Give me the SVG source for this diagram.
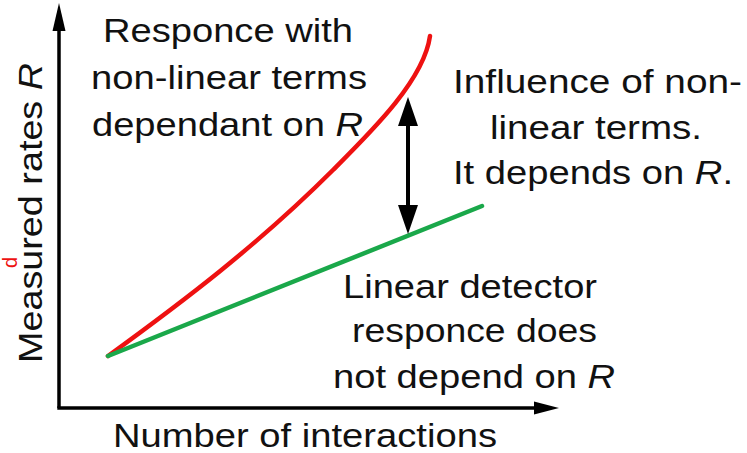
<svg xmlns="http://www.w3.org/2000/svg" width="747" height="453" viewBox="0 0 747 453">
<style>
  .t { font-family: "Liberation Sans", Arial, sans-serif; font-size: 34px; fill: #111; text-anchor: middle; }
  .ax { stroke: #000; stroke-width: 3.5; fill: none; }
  .head { fill: #000; }
</style>
<rect width="747" height="453" fill="#fff"/>
<g id="axes">
  <line class="ax" x1="59" y1="25" x2="59" y2="408"/>
  <polygon class="head" points="59,3 52.5,31 65.5,31"/>
  <line class="ax" x1="57.3" y1="408" x2="538" y2="408"/>
  <polygon class="head" points="559,408 534,401.5 534,414.5"/>
</g>
<g id="connectors">
  <path d="M108,356 C183,301.5 258,245 333,170 C372,131 424,80 430,36" fill="none" stroke="#ee1111" stroke-width="4.5" stroke-linecap="round"/>
  <line x1="108" y1="356" x2="482" y2="206" stroke="#1aa84a" stroke-width="4.5" stroke-linecap="round"/>
  <line x1="408" y1="118" x2="408" y2="212" stroke="#000" stroke-width="4"/>
  <polygon class="head" points="408,97 398,126 418,126"/>
  <polygon class="head" points="408,234 398,205 418,205"/>
</g>
<g id="label-nonlinear">
  <text class="t" x="228" y="42" textLength="250" lengthAdjust="spacingAndGlyphs">Responce with</text>
  <text class="t" x="229" y="89" textLength="276" lengthAdjust="spacingAndGlyphs">non-linear terms</text>
  <text class="t" x="227.5" y="136" textLength="271" lengthAdjust="spacingAndGlyphs">dependant on <tspan font-style="italic">R</tspan></text>
</g>
<g id="label-influence">
  <text class="t" x="597.5" y="93" textLength="289" lengthAdjust="spacingAndGlyphs">Influence of non-</text>
  <text class="t" x="596" y="139" textLength="212" lengthAdjust="spacingAndGlyphs">linear terms.</text>
  <text class="t" x="593" y="184" textLength="280" lengthAdjust="spacingAndGlyphs">It depends on <tspan font-style="italic">R</tspan>.</text>
</g>
<g id="label-linear">
  <text class="t" x="470" y="298" textLength="254" lengthAdjust="spacingAndGlyphs">Linear detector</text>
  <text class="t" x="474.5" y="342" textLength="245" lengthAdjust="spacingAndGlyphs">responce does</text>
  <text class="t" x="474" y="388" textLength="282" lengthAdjust="spacingAndGlyphs">not depend on <tspan font-style="italic">R</tspan></text>
</g>
<g id="label-x">
  <text class="t" x="305" y="447" textLength="384" lengthAdjust="spacingAndGlyphs">Number of interactions</text>
</g>
<g id="label-y">
  <text class="t" transform="translate(42,213) rotate(-90)" x="0" y="0" textLength="300" lengthAdjust="spacingAndGlyphs">Measured rates <tspan font-style="italic">R</tspan></text>
</g>
<g id="red-fragment">
  <text x="0" y="0" transform="translate(17,268) rotate(-90)" font-family="Liberation Sans, Arial, sans-serif" font-size="20" fill="#ee1111">d</text>
</g>
</svg>
